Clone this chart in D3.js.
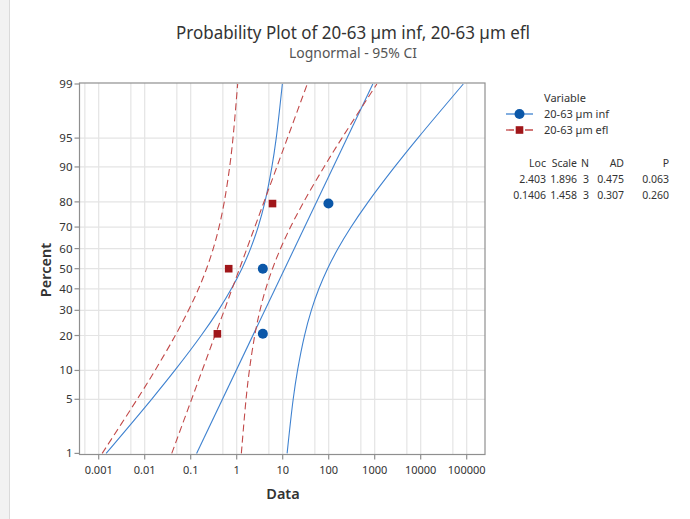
<!DOCTYPE html>
<html>
<head>
<meta charset="utf-8">
<script src="https://cdn.jsdelivr.net/npm/d3@7"></script>
<style>
  body { margin: 0; background: #fff; }
  svg { display: block; }
  text { font-family: "Noto Sans", "Open Sans", sans-serif; fill: #333; }
</style>
</head>
<body>
<svg id="chart" width="690" height="519"></svg>
<script>
// ---- data ----
const seriesNames = ["20-63 \u00b5m inf", "20-63 \u00b5m efl"];
const pointPercents = [20.6, 50, 79.4];
const infValues = [3.7, 3.7, 98.7];
const eflValues = [0.38, 0.67, 6.0];

// fitted lognormal parameters (natural log scale) and goodness-of-fit table
const locs = [2.403, 0.1406];
const scales = [1.896, 1.458];
const ns = [3, 3];
const ads = [0.475, 0.307];
const ps = [0.063, 0.260];

// 95% confidence bounds at each percent level
const ciPercents = [1, 5, 10, 20, 30, 40, 50, 60, 70, 80, 90, 95, 99];
const infLower = [0.00145, 0.0141, 0.0451, 0.169, 0.400, 0.766, 1.294, 2.00, 2.917, 4.111, 5.82, 7.23, 9.82];
const infUpper = [12.47, 16.9, 21.0, 29.8, 41.9, 61.1, 94.4, 159.6, 306, 724, 2710, 8650, 84330];
const eflLower = [0.00119, 0.00685, 0.01675, 0.0462, 0.0895, 0.148, 0.221, 0.309, 0.413, 0.537, 0.703, 0.830, 1.05];
const eflUpper = [1.262, 1.596, 1.884, 2.466, 3.206, 4.285, 6.00, 8.974, 14.79, 28.71, 79.25, 193.6, 1114];

// axis ticks
const yTicks = [1, 5, 10, 20, 30, 40, 50, 60, 70, 80, 90, 95, 99];
const xTicks = [0.001, 0.01, 0.1, 1, 10, 100, 1000, 10000, 100000];
const xTickLabels = ["0.001", "0.01", "0.1", "1", "10", "100", "1000", "10000", "100000"];

// ---- inverse standard normal CDF (Acklam) ----
function probit(p) {
  const a = [-3.969683028665376e+01, 2.209460984245205e+02, -2.759285104469687e+02,
             1.383577518672690e+02, -3.066479806614716e+01, 2.506628277459239e+00];
  const b = [-5.447609879822406e+01, 1.615858368580409e+02, -1.556989798598866e+02,
             6.680131188771972e+01, -1.328068155288572e+01];
  const c = [-7.784894002430293e-03, -3.223964580411365e-01, -2.400758277161838e+00,
             -2.549732539343734e+00, 4.374664141464968e+00, 2.938163982698783e+00];
  const d = [7.784695709041462e-03, 3.224671290700398e-01, 2.445134137142996e+00,
             3.754408661907416e+00];
  const pl = 0.02425, ph = 1 - pl;
  let q, r;
  if (p < pl) {
    q = Math.sqrt(-2 * Math.log(p));
    return (((((c[0]*q+c[1])*q+c[2])*q+c[3])*q+c[4])*q+c[5]) /
           ((((d[0]*q+d[1])*q+d[2])*q+d[3])*q+1);
  } else if (p <= ph) {
    q = p - 0.5; r = q * q;
    return (((((a[0]*r+a[1])*r+a[2])*r+a[3])*r+a[4])*r+a[5])*q /
           (((((b[0]*r+b[1])*r+b[2])*r+b[3])*r+b[4])*r+1);
  } else {
    q = Math.sqrt(-2 * Math.log(1 - p));
    return -(((((c[0]*q+c[1])*q+c[2])*q+c[3])*q+c[4])*q+c[5]) /
            ((((d[0]*q+d[1])*q+d[2])*q+d[3])*q+1);
  }
}

// ---- layout ----
const frame = { left: 79.5, right: 485, top: 83, bottom: 454.5 };
const svg = d3.select("#chart");

const x = d3.scaleLog().domain([1e-3, 1e5]).range([98.7, 466.7]);
const yz = d3.scaleLinear().domain([probit(0.01), probit(0.99)]).range([453.4, 84]);
const y = pct => yz(probit(pct / 100));

const blue = "#3f82d0", blueMark = "#0b57a8";
const red = "#c24a4a", redMark = "#a0161a";
const gridColor = "#e4e4e4", axisColor = "#8f8f8f";

// page edge strip
svg.append("rect").attr("x", 0).attr("y", 0).attr("width", 9).attr("height", 519).attr("fill", "#f2f2f2");
svg.append("line").attr("x1", 9.5).attr("x2", 9.5).attr("y1", 0).attr("y2", 519).attr("stroke", "#dadada");

// ---- grid ----
const grid = svg.append("g");
const xGrid = [];
for (let e = -4; e <= 5; e++) {
  [1, 5].forEach(m => {
    const v = m * Math.pow(10, e);
    const px = x(v);
    if (px > frame.left + 1 && px < frame.right - 1) xGrid.push(v);
  });
}
grid.selectAll("line.xg").data(xGrid).join("line")
  .attr("x1", d => x(d)).attr("x2", d => x(d))
  .attr("y1", frame.top).attr("y2", frame.bottom)
  .attr("stroke", gridColor).attr("stroke-width", 1.2);
grid.selectAll("line.yg").data(yTicks.filter(t => t > 1 && t < 99)).join("line")
  .attr("x1", frame.left).attr("x2", frame.right)
  .attr("y1", d => y(d)).attr("y2", d => y(d))
  .attr("stroke", gridColor).attr("stroke-width", 1.2);

// ---- plot contents, clipped to the frame ----
svg.append("clipPath").attr("id", "plotClip").append("rect")
  .attr("x", frame.left).attr("y", frame.top)
  .attr("width", frame.right - frame.left).attr("height", frame.bottom - frame.top);
const plot = svg.append("g").attr("clip-path", "url(#plotClip)");

const curve = d3.line().x(d => x(d[0])).y(d => y(d[1])).curve(d3.curveCatmullRom.alpha(0.5));
const bounds = [
  { lo: infLower, hi: infUpper, color: blue, dash: null },
  { lo: eflLower, hi: eflUpper, color: red, dash: "7,4" }
];
bounds.forEach((s, i) => {
  [s.lo, s.hi].forEach(arr => {
    plot.append("path")
      .attr("d", curve(arr.map((v, j) => [v, ciPercents[j]])))
      .attr("fill", "none").attr("stroke", s.color).attr("stroke-width", 1.1)
      .attr("stroke-dasharray", s.dash);
  });
  // fitted line: exp(loc + scale * z)
  const ends = [1, 99].map(p => [Math.exp(locs[i] + scales[i] * probit(p / 100)), p]);
  plot.append("path")
    .attr("d", d3.line().x(d => x(d[0])).y(d => y(d[1]))(ends))
    .attr("fill", "none").attr("stroke", s.color).attr("stroke-width", 1.1)
    .attr("stroke-dasharray", s.dash);
});

// data points
plot.selectAll("circle.inf").data(infValues).join("circle")
  .attr("cx", d => x(d)).attr("cy", (d, i) => y(pointPercents[i]))
  .attr("r", 5).attr("fill", blueMark);
plot.selectAll("rect.efl").data(eflValues).join("rect")
  .attr("x", d => x(d) - 3.8).attr("y", (d, i) => y(pointPercents[i]) - 3.8)
  .attr("width", 7.6).attr("height", 7.6).attr("fill", redMark);

// ---- frame & axes ----
svg.append("rect")
  .attr("x", frame.left).attr("y", frame.top)
  .attr("width", frame.right - frame.left).attr("height", frame.bottom - frame.top)
  .attr("fill", "none").attr("stroke", axisColor).attr("stroke-width", 1.2);

const yAxis = svg.append("g");
yTicks.forEach(t => {
  yAxis.append("line").attr("x1", frame.left - 5).attr("x2", frame.left)
    .attr("y1", y(t)).attr("y2", y(t)).attr("stroke", axisColor).attr("stroke-width", 1.2);
  yAxis.append("text").attr("x", frame.left - 7).attr("y", y(t))
    .attr("dy", "0.35em").attr("text-anchor", "end")
    .attr("font-size", 11.5).text(t);
});
const xAxis = svg.append("g");
xTicks.forEach((t, i) => {
  xAxis.append("line").attr("x1", x(t)).attr("x2", x(t))
    .attr("y1", frame.bottom).attr("y2", frame.bottom + 5)
    .attr("stroke", axisColor).attr("stroke-width", 1.2);
  xAxis.append("text").attr("x", x(t)).attr("y", 474)
    .attr("text-anchor", "middle").attr("font-size", 11).text(xTickLabels[i]);
});

svg.append("text").attr("x", 283).attr("y", 499).attr("text-anchor", "middle")
  .attr("font-size", 14.5).attr("font-weight", 600).text("Data");
svg.append("text").attr("transform", "translate(51,270) rotate(-90)")
  .attr("text-anchor", "middle").attr("font-size", 14.5).attr("font-weight", 600).text("Percent");

// ---- titles ----
svg.append("text").attr("x", 353).attr("y", 39).attr("text-anchor", "middle")
  .attr("font-size", 18).attr("textLength", 354).attr("lengthAdjust", "spacingAndGlyphs")
  .text("Probability Plot of 20-63 \u00b5m inf, 20-63 \u00b5m efl");
svg.append("text").attr("x", 353).attr("y", 58).attr("text-anchor", "middle")
  .attr("font-size", 13.5).attr("textLength", 128).attr("lengthAdjust", "spacingAndGlyphs")
  .style("fill", "#555").text("Lognormal - 95% CI");

// ---- legend ----
const lg = svg.append("g");
lg.append("text").attr("x", 544).attr("y", 98).attr("dy", "0.35em").attr("font-size", 11).text("Variable");
const legendY = [114, 130];
seriesNames.forEach((name, i) => {
  const ly = legendY[i];
  lg.append("line").attr("x1", 506).attr("x2", 533).attr("y1", ly).attr("y2", ly)
    .attr("stroke", i === 0 ? blue : red).attr("stroke-width", 1.3)
    .attr("stroke-dasharray", i === 0 ? null : "8,11");
  if (i === 0) {
    lg.append("circle").attr("cx", 519.5).attr("cy", ly).attr("r", 5).attr("fill", blueMark);
  } else {
    lg.append("rect").attr("x", 515.7).attr("y", ly - 3.8).attr("width", 7.6).attr("height", 7.6).attr("fill", redMark);
  }
  lg.append("text").attr("x", 544).attr("y", ly).attr("dy", "0.35em").attr("font-size", 11).text(name);
});

// statistics table
const colRight = [546, 577, 589, 624, 669];
const header = ["Loc", "Scale", "N", "AD", "P"];
const fmt4 = d3.format(".4r"), fmt3 = d3.format(".3f");
const rows = locs.map((l, i) => [fmt4(l), fmt4(scales[i]), String(ns[i]), fmt3(ads[i]), fmt3(ps[i])]);
header.forEach((h, j) => {
  lg.append("text").attr("x", colRight[j]).attr("y", 163).attr("dy", "0.35em")
    .attr("text-anchor", "end").attr("font-size", 10.5).text(h);
});
rows.forEach((r, i) => {
  r.forEach((cell, j) => {
    lg.append("text").attr("x", colRight[j]).attr("y", 179 + i * 16).attr("dy", "0.35em")
      .attr("text-anchor", "end").attr("font-size", 10.5).text(cell);
  });
});
</script>
</body>
</html>
